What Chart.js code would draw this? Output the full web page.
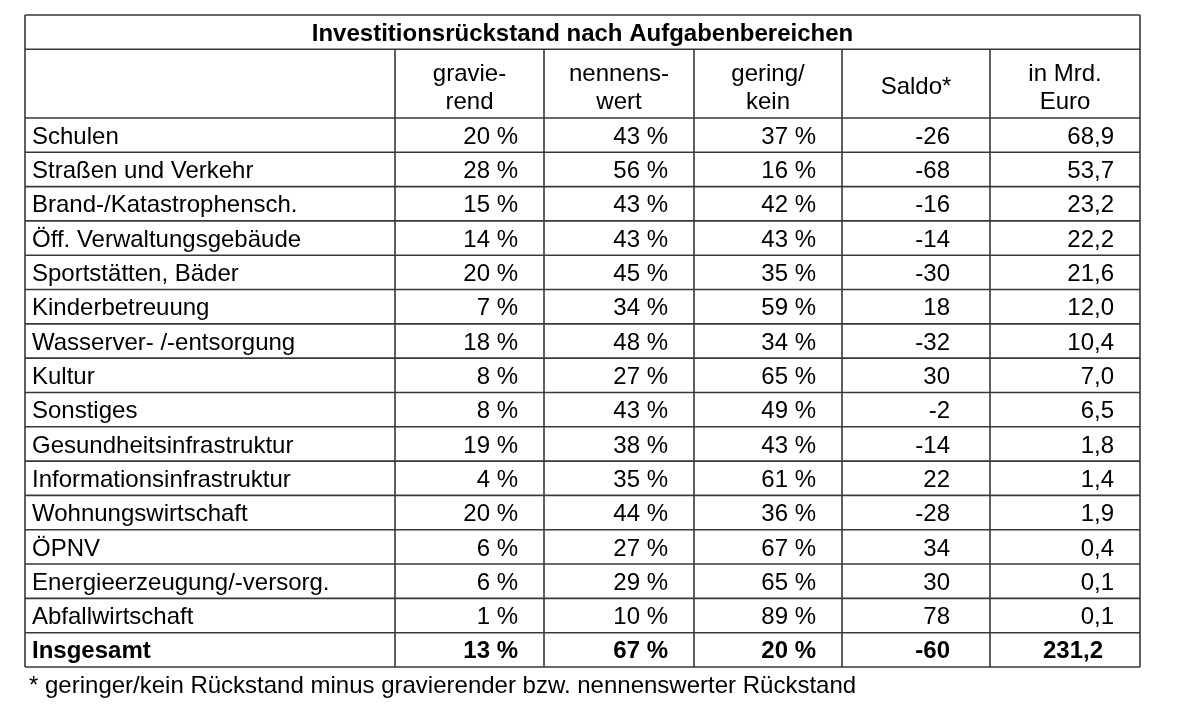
<!DOCTYPE html>
<html>
<head>
<meta charset="utf-8">
<script src="https://cdn.jsdelivr.net/npm/chart.js@4"></script>
<style>
	body { margin: 0; background: #fff; }
	#wrap { width: 1200px; height: 717px; }
</style>
</head>
<body>
<div id="wrap"><canvas id="table-canvas" width="1200" height="717"></canvas></div>
<script>
// Data
const tableTitle = 'Investitionsrückstand nach Aufgabenbereichen';
const columnHeaders = [['gravie-', 'rend'], ['nennens-', 'wert'], ['gering/', 'kein'], ['Saldo*'], ['in Mrd.', 'Euro']];
const categories = [
	'Schulen', 'Straßen und Verkehr', 'Brand-/Katastrophensch.', 'Öff. Verwaltungsgebäude',
	'Sportstätten, Bäder', 'Kinderbetreuung', 'Wasserver- /-entsorgung', 'Kultur', 'Sonstiges',
	'Gesundheitsinfrastruktur', 'Informationsinfrastruktur', 'Wohnungswirtschaft', 'ÖPNV',
	'Energieerzeugung/-versorg.', 'Abfallwirtschaft'
];
const gravierend = [20, 28, 15, 14, 20, 7, 18, 8, 8, 19, 4, 20, 6, 6, 1];
const nennenswert = [43, 56, 43, 43, 45, 34, 48, 27, 43, 38, 35, 44, 27, 29, 10];
const geringKein = [37, 16, 42, 43, 35, 59, 34, 65, 49, 43, 61, 36, 67, 65, 89];
const saldo = [-26, -68, -16, -14, -30, 18, -32, 30, -2, -14, 22, -28, 34, 30, 78];
const mrdEuro = [68.9, 53.7, 23.2, 22.2, 21.6, 12.0, 10.4, 7.0, 6.5, 1.8, 1.4, 1.9, 0.4, 0.1, 0.1];
const totalLabel = 'Insgesamt';
const totalValues = [13, 67, 20, -60, 231.2];
const footnote = '* geringer/kein Rückstand minus gravierender bzw. nennenswerter Rückstand';

// Layout (x units = px of table width, y units = rows)
const colEdges = [0, 370, 519, 669, 817, 965, 1115];
const rightPad = [26, 26, 26, 40, 26];
const TITLE_ROWS = 1;
const HEADER_ROWS = 2;
const TEXT_SHIFT = 2;
const FONT = '"Liberation Sans", Arial, sans-serif';

(function () {
	const pct = v => v + ' %';
	const num = v => String(v);
	const euro = v => v.toFixed(1).replace('.', ',');
	const formats = [pct, pct, pct, num, euro];
	const series = [gravierend, nennenswert, geringKein, saldo, mrdEuro];
	const rowCount = TITLE_ROWS + HEADER_ROWS + categories.length + 1;

	const tablePlugin = {
		id: 'tableCells',
		afterDraw (chart) {
			const ctx = chart.ctx;
			const x = chart.scales.x;
			const y = chart.scales.y;
			const px = v => x.getPixelForValue(v);
			const py = v => y.getPixelForValue(v);
			const ty = v => py(v) + TEXT_SHIFT;
			const left = px(colEdges[0]);
			const right = px(colEdges[colEdges.length - 1]);
			const bodyTop = TITLE_ROWS + HEADER_ROWS;

			ctx.save();
			ctx.strokeStyle = '#383838';
			ctx.lineWidth = 1.6;

			// horizontal lines
			ctx.beginPath();
			for (let r = 0; r <= rowCount; r++) {
				if (r == 2) continue;
				ctx.moveTo(left, py(r));
				ctx.lineTo(right, py(r));
			}
			// vertical lines
			colEdges.forEach((edge, i) => {
				const startRow = (i == 0 || i == colEdges.length - 1) ? 0 : TITLE_ROWS;
				ctx.moveTo(px(edge), py(startRow));
				ctx.lineTo(px(edge), py(rowCount));
			});
			ctx.stroke();

			ctx.fillStyle = '#000';
			ctx.textBaseline = 'middle';

			// title
			ctx.font = 'bold 24px ' + FONT;
			ctx.textAlign = 'center';
			ctx.fillText(tableTitle, (left + right) / 2, ty(0.5));

			// column headers
			ctx.font = '24px ' + FONT;
			columnHeaders.forEach((lines, i) => {
				const cx = (px(colEdges[i + 1]) + px(colEdges[i + 2])) / 2;
				if (lines.length == 1) {
					ctx.fillText(lines[0], cx, ty(TITLE_ROWS + 1.05));
				} else {
					ctx.fillText(lines[0], cx, ty(TITLE_ROWS + 0.68));
					ctx.fillText(lines[1], cx, ty(TITLE_ROWS + 1.5));
				}
			});

			// body rows
			categories.forEach((cat, r) => {
				const cy = ty(bodyTop + r + 0.5);
				ctx.textAlign = 'left';
				ctx.fillText(cat, left + 7, cy);
				ctx.textAlign = 'right';
				series.forEach((values, c) => {
					ctx.fillText(formats[c](values[r]), px(colEdges[c + 2]) - rightPad[c], cy);
				});
			});

			// total row
			const totalY = ty(bodyTop + categories.length + 0.5);
			ctx.font = 'bold 24px ' + FONT;
			ctx.textAlign = 'left';
			ctx.fillText(totalLabel, left + 7, totalY);
			ctx.textAlign = 'right';
			totalValues.forEach((v, c) => {
				const pad = c == 4 ? 37 : rightPad[c];
				ctx.fillText(formats[c](v), px(colEdges[c + 2]) - pad, totalY);
			});

			// footnote
			ctx.font = '24px ' + FONT;
			ctx.textAlign = 'left';
			ctx.fillText(footnote, left + 4, py(rowCount) + 19);
			ctx.restore();
		}
	};

	new Chart(document.getElementById('table-canvas'), {
		type: 'scatter',
		data: { datasets: [] },
		options: {
			responsive: false,
			animation: false,
			layout: { padding: { left: 25, top: 15, right: 60, bottom: 50 } },
			plugins: { legend: { display: false }, tooltip: { enabled: false } },
			scales: {
				x: { type: 'linear', min: colEdges[0], max: colEdges[colEdges.length - 1], display: false },
				y: { type: 'linear', min: 0, max: rowCount, reverse: true, display: false }
			}
		},
		plugins: [tablePlugin]
	});
})();
</script>
</body>
</html>
